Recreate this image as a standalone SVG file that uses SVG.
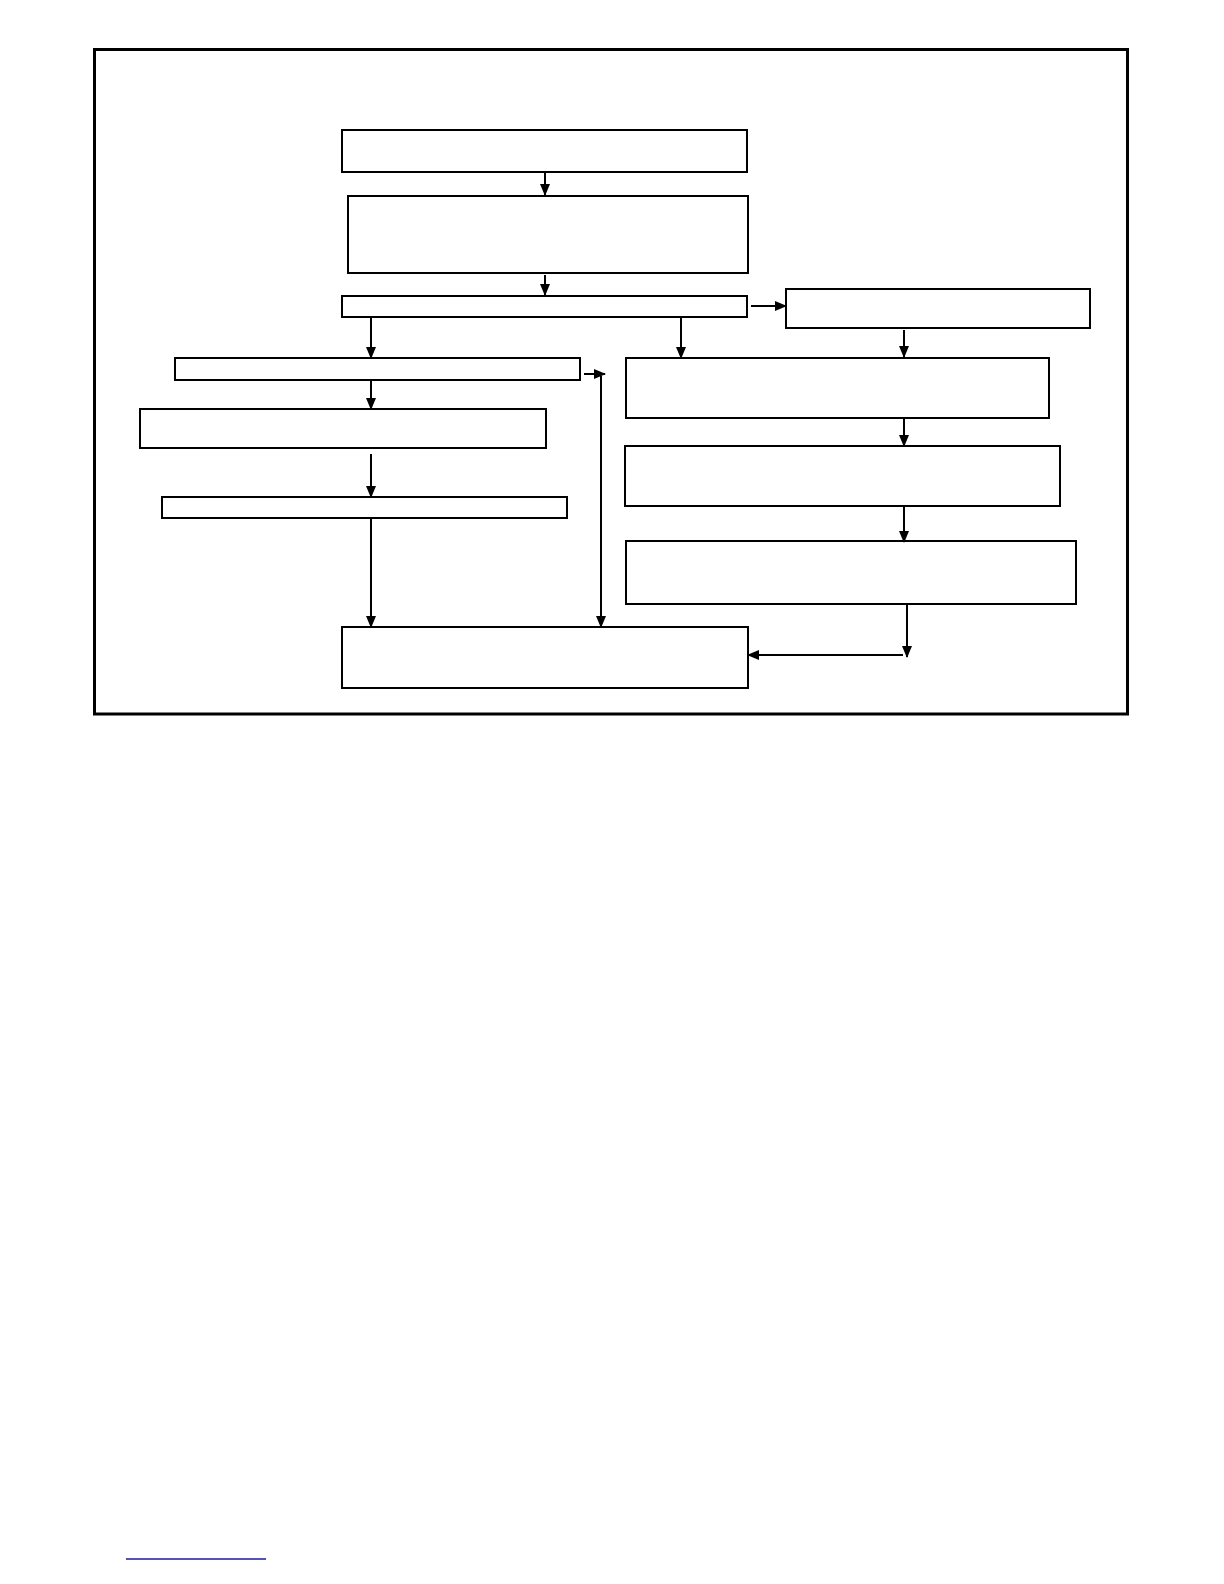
<svg xmlns="http://www.w3.org/2000/svg" width="1224" height="1584" viewBox="0 0 1224 1584">
<style>
.box{fill:#fff;stroke:#000;stroke-width:2}
.ln{fill:none;stroke:#000;stroke-width:2}
</style>
<defs>
<marker id="ah" markerWidth="12" markerHeight="12" refX="11" refY="6" orient="auto" markerUnits="userSpaceOnUse">
<path d="M0,1 L12,6 L0,11 Z" fill="#000"/>
</marker>
</defs>
<rect width="1224" height="1584" fill="#fff"/>
<rect x="94.5" y="49.5" width="1033" height="664.5" fill="none" stroke="#000" stroke-width="3"/>
<g id="n1"><rect class="box" x="342" y="130" width="405" height="42"/></g>
<g id="n2"><rect class="box" x="348" y="196" width="400" height="77"/></g>
<g id="n3"><rect class="box" x="342" y="296" width="405" height="21"/></g>
<g id="r1"><rect class="box" x="786" y="289" width="304" height="39"/></g>
<g id="l1"><rect class="box" x="175" y="358" width="405" height="22"/></g>
<g id="l2"><rect class="box" x="140" y="409" width="406" height="39"/></g>
<g id="l3"><rect class="box" x="162" y="497" width="405" height="21"/></g>
<g id="r2"><rect class="box" x="626" y="358" width="423" height="60"/></g>
<g id="r3"><rect class="box" x="625" y="446" width="435" height="60"/></g>
<g id="r4"><rect class="box" x="626" y="541" width="450" height="63"/></g>
<g id="bottom"><rect class="box" x="342" y="627" width="406" height="61"/></g>
<g id="connectors">
<line class="ln" x1="545" y1="172" x2="545" y2="195" marker-end="url(#ah)"/>
<line class="ln" x1="545" y1="275" x2="545" y2="295" marker-end="url(#ah)"/>
<line class="ln" x1="751" y1="306" x2="786" y2="306" marker-end="url(#ah)"/>
<line class="ln" x1="371" y1="317" x2="371" y2="358" marker-end="url(#ah)"/>
<line class="ln" x1="681" y1="317" x2="681" y2="358" marker-end="url(#ah)"/>
<line class="ln" x1="904" y1="330" x2="904" y2="357" marker-end="url(#ah)"/>
<line class="ln" x1="371" y1="380" x2="371" y2="409" marker-end="url(#ah)"/>
<line class="ln" x1="371" y1="454" x2="371" y2="497" marker-end="url(#ah)"/>
<line class="ln" x1="371" y1="519" x2="371" y2="627" marker-end="url(#ah)"/>
<line class="ln" x1="584" y1="374" x2="605" y2="374" marker-end="url(#ah)"/>
<line class="ln" x1="601" y1="376" x2="601" y2="627" marker-end="url(#ah)"/>
<line class="ln" x1="904" y1="418" x2="904" y2="446" marker-end="url(#ah)"/>
<line class="ln" x1="904" y1="506" x2="904" y2="542" marker-end="url(#ah)"/>
<line class="ln" x1="907" y1="604" x2="907" y2="657" marker-end="url(#ah)"/>
<line class="ln" x1="903" y1="655" x2="748" y2="655" marker-end="url(#ah)"/>
</g>
<line x1="126" y1="1559" x2="266" y2="1559" stroke="#1a1aa0" stroke-width="1.5"/>
</svg>
